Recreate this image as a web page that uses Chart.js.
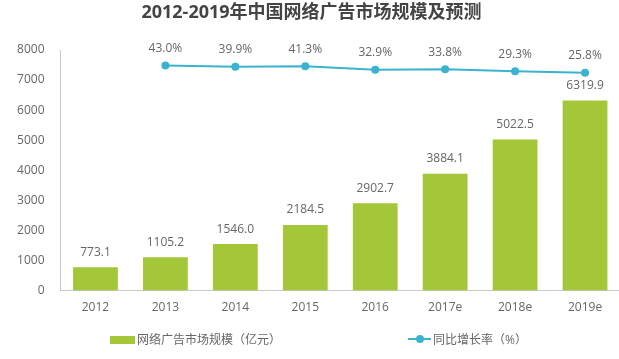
<!DOCTYPE html>
<html>
<head>
<meta charset="utf-8">
<script src="https://cdn.jsdelivr.net/npm/chart.js@4"></script>
<style>
  body { margin: 0; overflow: hidden; background: #fff; }
  #wrap { position: relative; width: 624px; height: 359px; }
  .lg { position: absolute; font: 12px "Open Sans", "Noto Sans CJK SC", sans-serif; color: #666; line-height: 14px; }
</style>
</head>
<body>
<div id="wrap">
  <canvas id="chart" width="624" height="359"></canvas>
  <div style="position:absolute;left:110px;top:336px;width:25px;height:8px;background:#a4c639"></div>
  <div class="lg" style="left:137px;top:333px">网络广告市场规模（亿元）</div>
  <div style="position:absolute;left:408px;top:338px;width:23px;height:2px;background:#3ab3d0"></div>
  <div style="position:absolute;left:416px;top:335px;width:8px;height:8px;border-radius:50%;background:#3ab3d0"></div>
  <div class="lg" style="left:433px;top:333px">同比增长率（%）</div>
</div>
<script>
const years = ['2012', '2013', '2014', '2015', '2016', '2017e', '2018e', '2019e']
const marketSize = [773.1, 1105.2, 1546.0, 2184.5, 2902.7, 3884.1, 5022.5, 6319.9]
const growth = [null, 43.0, 39.9, 41.3, 32.9, 33.8, 29.3, 25.8]

const green = '#a4c639'
const blue = '#3ab3d0'
const font = '"Open Sans", "Noto Sans CJK SC", sans-serif'

// value labels over bars and points
const valueLabels = {
  id: 'valueLabels',
  afterDatasetsDraw(chart) {
    const ctx = chart.ctx
    ctx.save()
    ctx.font = '12px ' + font
    ctx.fillStyle = '#666'
    ctx.textAlign = 'center'
    ctx.textBaseline = 'middle'
    chart.getDatasetMeta(1).data.forEach((el, i) => {
      ctx.fillText(marketSize[i].toFixed(1), el.x, el.y - 15)
    })
    chart.getDatasetMeta(0).data.forEach((el, i) => {
      if (growth[i] == null) return
      ctx.fillText(growth[i].toFixed(1) + '%', el.x, el.y - 17)
    })
    ctx.restore()
  }
}

new Chart(document.getElementById('chart'), {
  data: {
    labels: years,
    datasets: [
      {
        type: 'line',
        label: '同比增长率（%）',
        data: growth,
        yAxisID: 'y2',
        borderColor: blue,
        backgroundColor: blue,
        borderWidth: 2,
        pointRadius: 4,
        pointBackgroundColor: blue,
        pointBorderWidth: 0,
        tension: 0
      },
      {
        type: 'bar',
        label: '网络广告市场规模（亿元）',
        data: marketSize,
        yAxisID: 'y',
        backgroundColor: green,
        barPercentage: 0.64,
        categoryPercentage: 1
      }
    ]
  },
  options: {
    responsive: false,
    animation: false,
    layout: { padding: { left: 0, right: 1, top: 0, bottom: 34 } },
    plugins: {
      legend: { display: false },
      tooltip: { enabled: false },
      title: {
        display: true,
        text: '2012-2019年中国网络广告市场规模及预测',
        color: '#444',
        font: { size: 18, weight: 'bold', family: font },
        padding: { top: 2, bottom: 26.4 }
      }
    },
    scales: {
      x: {
        grid: { display: false, drawTicks: false },
        border: { display: true, color: '#c8c8c8', width: 1 },
        ticks: { color: '#666', padding: 10, font: { size: 12, family: font } }
      },
      y: {
        min: 0,
        max: 8000,
        afterFit(scale) { scale.width = 60.5 },
        grid: { display: false, drawTicks: false },
        border: { display: true, color: '#c8c8c8', width: 1 },
        ticks: {
          stepSize: 1000,
          color: '#666',
          padding: 16,
          font: { size: 12, family: font },
          callback: v => String(v)
        }
      },
      y2: {
        display: false,
        position: 'right',
        min: -495,
        max: 80
      }
    }
  },
  plugins: [valueLabels]
})
</script>
</body>
</html>
